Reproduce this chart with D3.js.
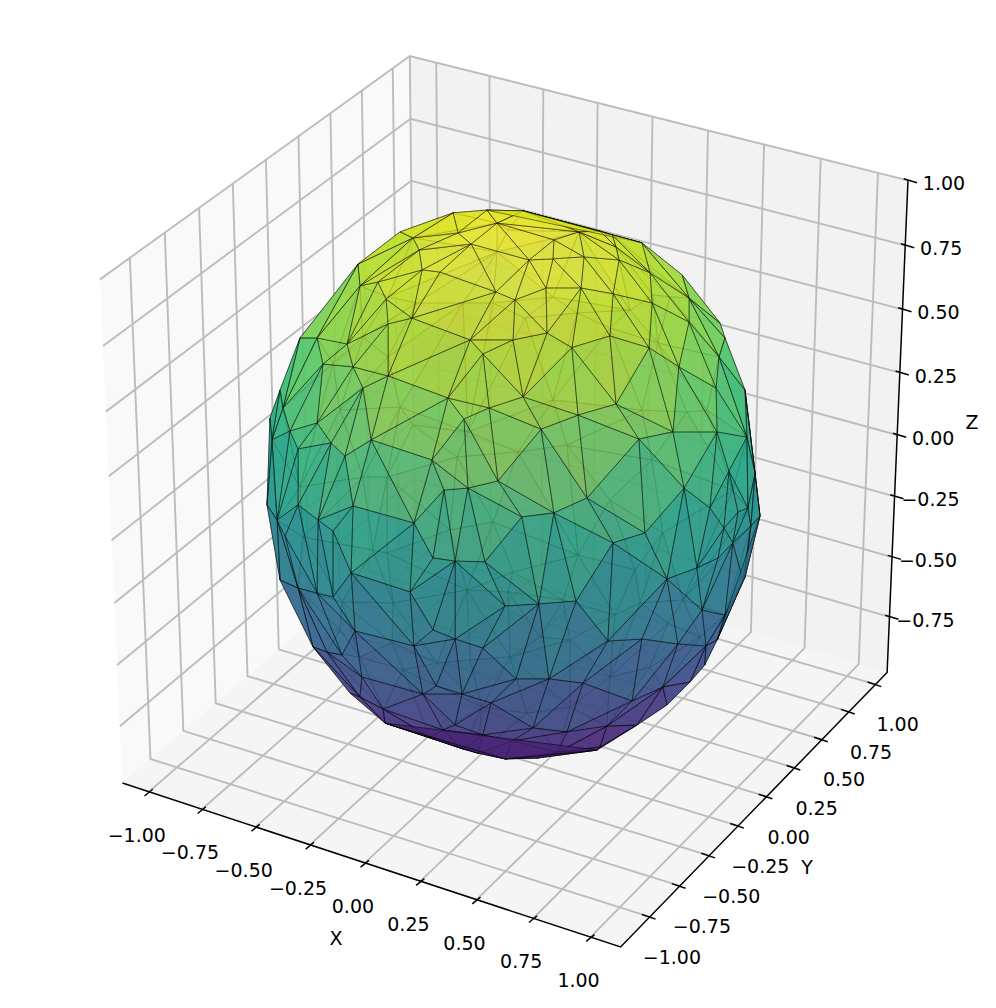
<!DOCTYPE html>
<html><head><meta charset="utf-8">
<script src="https://cdn.jsdelivr.net/npm/d3@7"></script>
<style>html,body{margin:0;padding:0;background:#fff}text{font-family:"DejaVu Sans";fill:#000}</style>
</head><body><svg id="c" width="996" height="1008"></svg>
<script>
const xLimits=[-1.125,1.13], yLimits=[-1.24,1.11], zLimits=[-0.985,1.0];
const xTicks=[-1,-0.75,-0.5,-0.25,0,0.25,0.5,0.75,1];
const yTicks=[-1,-0.75,-0.5,-0.25,0,0.25,0.5,0.75,1];
const zTicks=[-0.75,-0.5,-0.25,0,0.25,0.5,0.75,1];
// facet vertices of the visible hemisphere, in sphere view coordinates
const frontU=[-.866,-.947,-.988,-.797,-.675,-.773,-.651,-.509,-.611,-.509,-.412,-.517,-.550,-.623,-.631,-.371,-.383,-.408,-.460,-.245,-.108,.039,-.067,-.225,-.172,.164,.266,.286,.063,.160,.132,.274,-.071,.006,-.298,.136,.237,-.002,-.176,-.124,
.351,.521,.684,.838,.939,.400,.416,.428,.554,.404,.562,.712,.712,.550,.391,.671,.834,.858,.822,
-.935,-.907,-.980,-.797,-.740,-.874,-.684,-.578,-.874,-.793,-.959,-1,-.651,-.732,-.927,-.404,-.659,-.331,
-.266,-.099,.039,.262,.112,-.201,-.063,-.185,-.282,.298,.164,.034,-.116,-.237,-.327,
.416,.509,.647,.826,.947,.980,.874,1,.692,.951,.797,.854,.911,.890,.963,.533,.404,.744,.830,.623,.939,
-.947,-.874,-.797,-.732,-.420,-.643,-.696,-.813,-.404,-.615,-.663,-.623,-.529,-.521,-.367,-.757,
-.034,.103,.254,-.327,-.237,-.124,.010,.144,.282,-.209,-.091,-.314,.079,-.237,-.286,-.124,-.006,.217,-.144,-.034,.095,.181,.339,-.339,-.205,
.765,.858,.931,.383,.521,.667,.781,.481,.606,.623,.776,.501,.379,.826,.351,.716];
const frontV=[.532,.343,.241,.532,.510,.437,.427,.394,.350,.583,.604,.673,.735,.721,.800,.779,.851,.895,.917,.986,.996,.993,.949,.913,.873,.888,.917,.826,.815,.819,.713,.713,.699,.670,.771,.550,.497,.525,.525,.474,
.920,.877,.761,.586,.343,.906,.862,.815,.768,.692,.659,.590,.677,.496,.539,.427,.463,.532,.350,
.278,.194,.162,.223,.151,.129,.103,.162,-.074,-.129,-.129,-.074,-.078,-.169,-.187,-.140,-.321,.089,
.314,.278,.318,.252,.201,.238,.013,-.013,-.020,-.049,-.103,-.118,-.281,-.278,-.267,
.292,.165,.191,.191,.172,.042,.049,-.114,-.013,-.085,-.085,-.158,-.100,-.212,-.151,-.176,-.212,-.303,-.267,-.343,-.336,
-.347,-.376,-.394,-.408,-.390,-.532,-.619,-.590,-.586,-.699,-.757,-.771,-.815,-.866,-.761,-.608,
-.441,-.434,-.423,-.528,-.561,-.594,-.706,-.706,-.721,-.761,-.793,-.731,-.884,-.873,-.891,-.909,-.931,-.898,-.975,-.996,-.993,-.971,-.964,-.917,-.960,
-.456,-.474,-.347,-.568,-.561,-.579,-.586,-.786,-.735,-.800,-.655,-.873,-.877,-.564,-.953,-.717];
// facet vertices of the far hemisphere, seen faintly through the surface
const backU=[-.022,-.067,-.083,-.205,.047,.258,.160,.566,.635,.586,.391,.473,-.509,-.611,-.732,-.509,-.392,-.513,-.611,-.513,-.866,-.854,-.704,-.460,-.408,-.570,-.229,.018,-.083,.262,.217,-.258,-.002,-.185,.160,.562,.704,.521,.391,.606,.493,.785,.890,-.696,-.489,-.493,-.704,-.623,-.448,-.189,-.022,.108,.201,-.014,-.176,.229,-.310,.055,.229,-.128,.412,.627,.513,.688,.757,.391,.554];
const backV=[.924,.844,.659,.659,.604,.623,.681,.688,.681,.514,.568,.633,.681,.535,.441,.463,.659,.027,.027,-.249,-.009,-.191,.270,.281,.216,-.238,.100,.118,-.136,-.256,.143,-.165,-.318,.191,.307,.089,.263,.270,-.056,-.176,-.310,.270,-.020,-.427,-.430,-.575,-.528,-.626,-.673,-.383,-.390,-.554,-.419,-.626,-.637,-.564,-.648,-.830,-.808,-.808,-.474,-.503,-.430,-.419,-.554,-.699,-.663];

const W=996,H=1008,svg=d3.select("#c");
// mplot3d-style perspective view (elev 30, azim -60, dist 10, cubic box)
const rad=Math.PI/180,elev=30*rad,azim=-60*rad,dist=10;
const B=1.8294640721620434*25/24/Math.sqrt(3);
const bx=d3.scaleLinear().domain(xLimits).range([0,B]);
const by=d3.scaleLinear().domain(yLimits).range([0,B]);
const bz=d3.scaleLinear().domain(zLimits).range([0,B]);
const dot=(a,b)=>a[0]*b[0]+a[1]*b[1]+a[2]*b[2];
const cross=(a,b)=>[a[1]*b[2]-a[2]*b[1],a[2]*b[0]-a[0]*b[2],a[0]*b[1]-a[1]*b[0]];
const wv=[Math.cos(elev)*Math.cos(azim),Math.cos(elev)*Math.sin(azim),Math.sin(elev)];
const uvRaw=cross([0,0,1],wv),uL=Math.hypot(...uvRaw),uv=uvRaw.map(d=>d/uL),vv=cross(wv,uv);
const eye=[B/2+dist*wv[0],B/2+dist*wv[1],B/2+dist*wv[2]];
function persp(x,y,z){const p=[bx(x)-eye[0],by(y)-eye[1],bz(z)-eye[2]],d=-dot(p,wv);return [dot(p,uv)/d,dot(p,vv)/d];}
const [x0,x1]=xLimits,[y0,y1]=yLimits,[z0,z1]=zLimits;
const sx=d3.scaleLinear().domain([persp(x0,y0,z1)[0],persp(x1,y1,z1)[0]]).range([100,908]);
const sy=d3.scaleLinear().domain([persp(x1,y0,z0)[1],persp(x0,y1,z1)[1]]).range([947,56]);
const P=(x,y,z)=>{const q=persp(x,y,z);return [sx(q[0]),sy(q[1])];};
const line=d3.line();

// panes
const panes=[
 {c:[[x0,y0,z0],[x0,y1,z0],[x0,y1,z1],[x0,y0,z1]],f:"#f9f9f9"},
 {c:[[x0,y1,z0],[x1,y1,z0],[x1,y1,z1],[x0,y1,z1]],f:"#f2f2f2"},
 {c:[[x0,y0,z0],[x1,y0,z0],[x1,y1,z0],[x0,y1,z0]],f:"#f5f5f5"}];
svg.append("g").selectAll("path").data(panes).join("path")
 .attr("d",d=>line(d.c.map(p=>P(...p)))+"Z").attr("fill",d=>d.f);

// grid
const wallShift=0.03;
const grid=[];
xTicks.forEach(x=>grid.push([[x,y0,z0],[x,y1,z0],[x,y1,z1]]));
yTicks.forEach(y=>grid.push([[x0,y-wallShift,z1],[x0,y-wallShift,z0],[x1,y,z0]]));
zTicks.forEach(z=>grid.push([[x0,y0,z],[x0,y1,z],[x1,y1,z]]));
grid.push([[x0,y1,z0],[x0,y1,z1]]);
svg.append("g").selectAll("path").data(grid).join("path")
 .attr("d",d=>line(d.map(p=>P(...p)))).attr("fill","none").attr("stroke","#bcbcbc").attr("stroke-width",1.9);

// sphere
const cu=d3.scaleLinear().domain([-1,1]).range([267,760]);
const cv=d3.scaleLinear().domain([-1,1]).range([760,209]);
const colour=d3.scaleSequential(d3.interpolateViridis).domain([-1,0.97]);
function facets(U,V,side){
 const pts=U.map((u,i)=>{const v=V[i],w=Math.sqrt(Math.max(0,1-u*u-v*v));
   return {u,v,s:u/(1+w),t:v/(1+w),z:v*Math.cos(elev)+side*w*Math.sin(elev)};});
 const tri=d3.Delaunay.from(pts,d=>d.s,d=>d.t).triangles,out=[];
 for(let i=0;i<tri.length;i+=3){const a=[pts[tri[i]],pts[tri[i+1]],pts[tri[i+2]]];
   out.push({a,z:d3.mean(a,d=>d.z)});}
 return out;
}
const rimU=[],rimV=[];
frontU.forEach((u,i)=>{if(u*u+frontV[i]*frontV[i]>0.9){rimU.push(u);rimV.push(frontV[i]);}});
const drawLayer=(data,cls)=>svg.append("g").attr("class",cls).selectAll("path").data(data).join("path")
 .attr("d",d=>line(d.a.map(p=>[cu(p.u),cv(p.v)]))+"Z")
 .attr("fill",d=>colour(d.z)).attr("fill-opacity",0.73)
 .attr("stroke","#000").attr("stroke-opacity",0.75).attr("stroke-width",0.6).attr("stroke-linejoin","round");
drawLayer(facets(backU.concat(rimU),backV.concat(rimV),-1),"back");
drawLayer(facets(frontU,frontV,1),"front");

// axes
const axisLines=[[[x0,y0,z0],[x1,y0,z0],[x1,y1,z0],[x1,y1,z1]]];
svg.append("g").selectAll("path").data(axisLines).join("path")
 .attr("d",d=>line(d.map(p=>P(...p)))).attr("fill","none").attr("stroke","#000").attr("stroke-width",1.5);
const fmt=d3.format(".2f");
function axis(values,pos,t0,t1,lab){
 const g=svg.append("g");
 g.selectAll("line").data(values).join("line")
  .attr("x1",d=>pos(d)[0]+t0[0]).attr("y1",d=>pos(d)[1]+t0[1])
  .attr("x2",d=>pos(d)[0]+t1[0]).attr("y2",d=>pos(d)[1]+t1[1])
  .attr("stroke","#000").attr("stroke-width",1.5);
 g.selectAll("text").data(values).join("text").text(d=>fmt(d))
  .attr("x",d=>pos(d)[0]+lab[0]).attr("y",d=>pos(d)[1]+lab[1])
  .attr("text-anchor","middle").attr("dominant-baseline","central").attr("font-size",19);
}
axis(xTicks,d=>P(d,y0,z0),[-4.3,4.3],[4,-2.5],[-12,43]);
axis(yTicks,d=>P(x1,d,z0),[-8,-2.3],[5.7,2.3],[22,40]);
axis(zTicks,d=>P(x1,y1,d),[-4.3,-1.7],[9,2.3],[36,3]);
const names=[{t:"X",p:[336,938]},{t:"Y",p:[807,867]},{t:"Z",p:[972,422]}];
svg.append("g").selectAll("text").data(names).join("text").text(d=>d.t)
 .attr("x",d=>d.p[0]).attr("y",d=>d.p[1]).attr("text-anchor","middle").attr("dominant-baseline","central").attr("font-size",19);
</script></body></html>
